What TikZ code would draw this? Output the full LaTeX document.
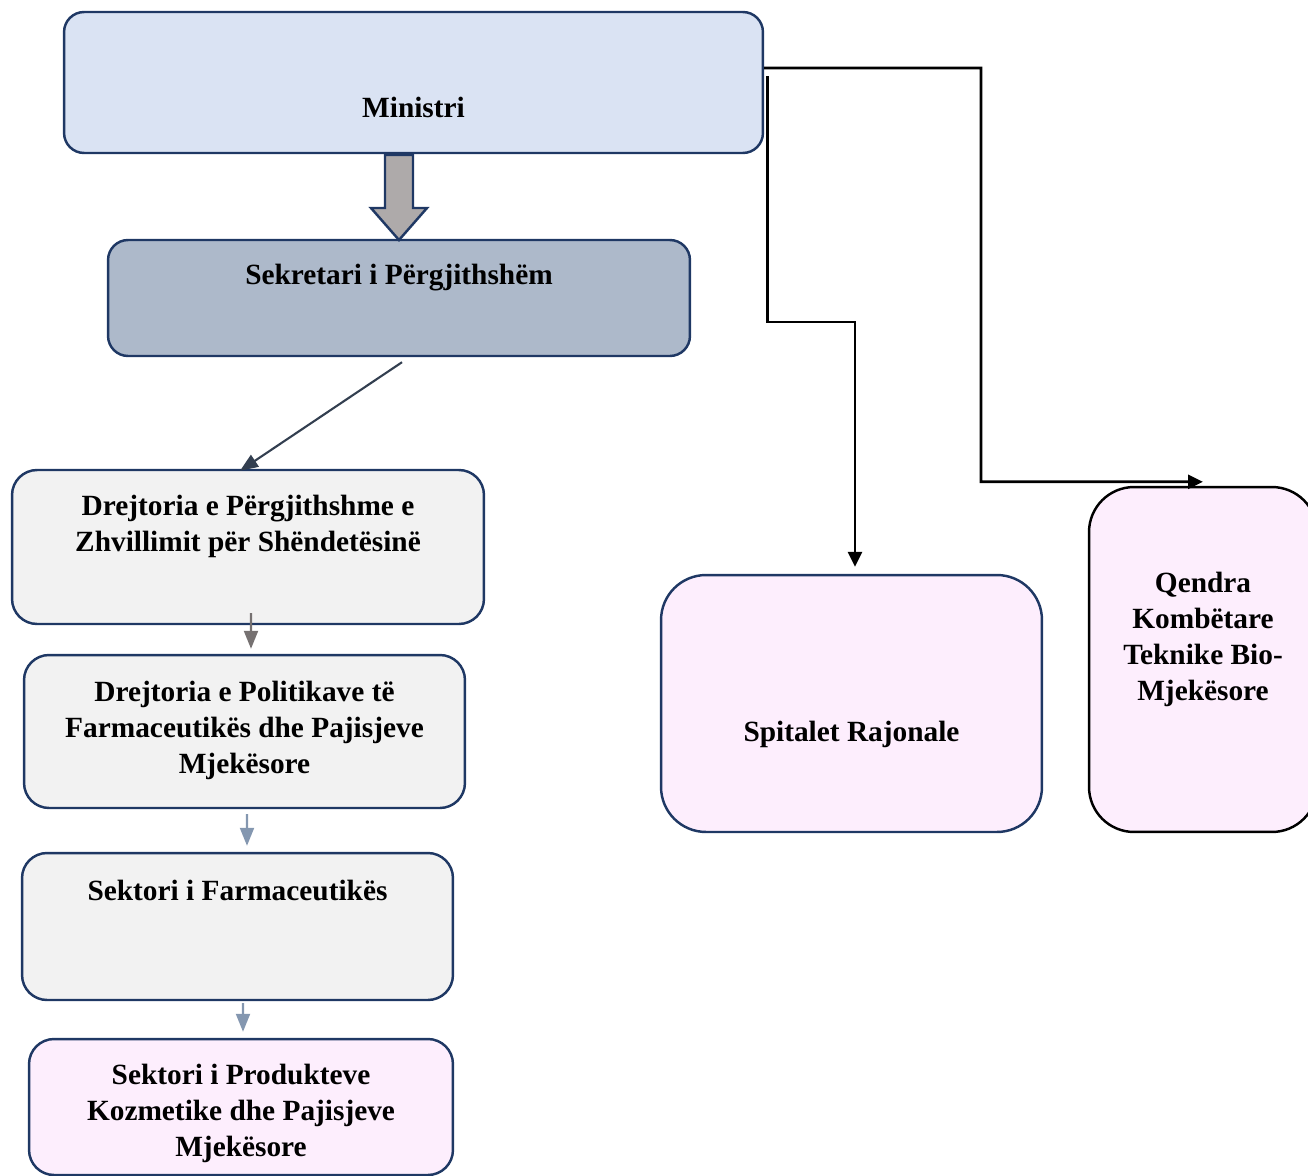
\documentclass[tikz,border=0pt]{standalone}
\usepackage{fontspec}
\setmainfont{Liberation Serif}
\usetikzlibrary{arrows.meta}
\definecolor{navy}{RGB}{31,56,100}
\definecolor{minblue}{RGB}{218,227,243}
\definecolor{sekblue}{RGB}{173,185,202}
\definecolor{boxgray}{RGB}{242,242,242}
\definecolor{boxpink}{RGB}{253,238,253}
\definecolor{blockgray}{RGB}{174,170,170}
\definecolor{slate}{RGB}{51,63,80}
\definecolor{darkgray}{RGB}{118,113,113}
\definecolor{steel}{RGB}{132,151,176}
\tikzstyle{box} = [rectangle, rounded corners=0.5cm, draw=navy, line width=1.4pt, fill=boxgray]
\tikzstyle{txt} = [font=\bfseries\fontsize{16.7}{20.5}\selectfont, align=center, text=black]
\tikzstyle{arrow} = [line width=1.6pt, -{Triangle[length=0.3cm,width=0.28cm]}]
\tikzstyle{thin} = [line width=1.2pt, -{Triangle[length=0.36cm,width=0.28cm]}]

\begin{document}
\begin{tikzpicture}[x=0.02cm, y=-0.02cm]
\useasboundingbox (0,0) rectangle (1308,1176);

% Nodes
\node (ministri) [box, rounded corners=0.4cm, fill=minblue, minimum width=13.98cm, minimum height=2.82cm,
  label={[txt, yshift=-0.5cm]center:Ministri}] at (413.5,82.5) {};
\node (sekretari) [box, rounded corners=0.4cm, fill=sekblue, minimum width=11.64cm, minimum height=2.32cm,
  label={[txt, yshift=0.41cm]center:Sekretari i Përgjithshëm}] at (399,298) {};
\node (drejt1) [box, minimum width=9.44cm, minimum height=3.08cm,
  label={[txt, yshift=0.41cm]center:Drejtoria e Përgjithshme e\\Zhvillimit për Shëndetësinë}] at (248,547) {};
\node (drejt2) [box, minimum width=8.82cm, minimum height=3.06cm,
  label={[txt, yshift=0.02cm]center:Drejtoria e Politikave të\\Farmaceutikës dhe Pajisjeve\\Mjekësore}] at (244.5,731.5) {};
\node (farm) [box, minimum width=8.62cm, minimum height=2.94cm,
  label={[txt, yshift=0.72cm]center:Sektori i Farmaceutikës}] at (237.5,926.5) {};
\node (prod) [box, fill=boxpink, minimum width=8.48cm, minimum height=2.72cm,
  label={[txt, yshift=-0.13cm]center:Sektori i Produkteve\\Kozmetike dhe Pajisjeve\\Mjekësore}] at (241,1107) {};
\node (spitalet) [box, rounded corners=0.9cm, fill=boxpink, minimum width=7.62cm, minimum height=5.14cm,
  label={[txt, yshift=-0.62cm]center:Spitalet Rajonale}] at (851.5,703.5) {};
\node (qendra) [box, rounded corners=0.9cm, draw=black, fill=boxpink, minimum width=4.56cm, minimum height=6.9cm,
  label={[txt, yshift=0.4cm]center:Qendra\\Kombëtare\\Teknike Bio-\\Mjekësore}] at (1203,659.5) {};

% Block arrow
\draw [navy, line width=1.4pt, fill=blockgray, line join=miter]
  (385,155) -- (413,155) -- (413,208) -- (427,208) -- (399,240) -- (371,208) -- (385,208) -- cycle;

% Arrows
\draw [thin, slate] ([xshift=0.06cm,yshift=-0.1cm]sekretari.south) -- ([xshift=-0.16cm,yshift=-0.04cm]drejt1.north);
\draw [thin, darkgray] ([xshift=0.06cm,yshift=0.24cm]drejt1.south) -- ([xshift=0.13cm,yshift=0.1cm]drejt2.north);
\draw [thin, steel] ([xshift=0.05cm,yshift=-0.1cm]drejt2.south) -- ([xshift=0.19cm,yshift=0.12cm]farm.north);
\draw [thin, steel] ([xshift=0.11cm,yshift=-0.04cm]farm.south) -- ([xshift=0.04cm,yshift=0.12cm]prod.north);
\draw [arrow] ([yshift=0.29cm]ministri.east) -- (981,68) |- ([yshift=0.08cm]qendra.north);
\draw [arrow] ([xshift=0.06cm,yshift=0.13cm]ministri.east) coordinate (start2) -- (start2 |- 0,322) -| ([xshift=0.07cm,yshift=0.14cm]spitalet.north);

\end{tikzpicture}
\end{document}
